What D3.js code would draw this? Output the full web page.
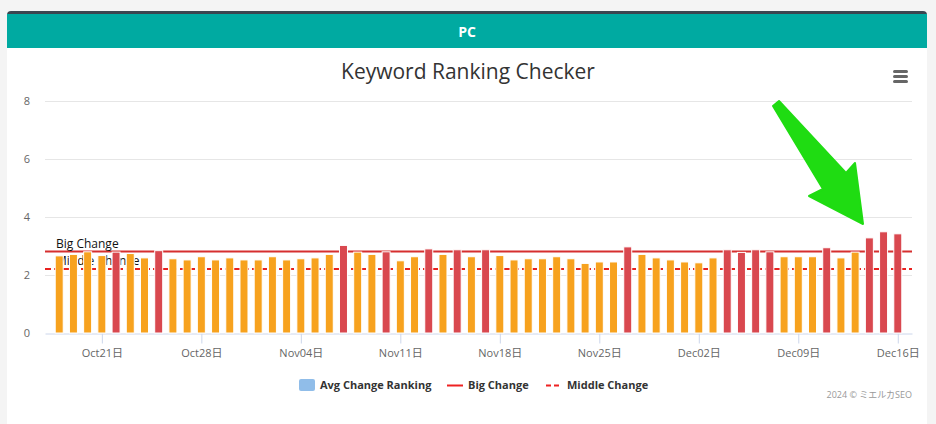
<!DOCTYPE html>
<html>
<head>
<meta charset="utf-8">
<script src="https://cdn.jsdelivr.net/npm/d3@7"></script>
<style>
  body { margin: 0; background: #f4f4f4; }
  svg { display: block; font-family: "Open Sans", "Noto Sans", sans-serif; }
</style>
</head>
<body>
<div id="chart"></div>
<script>
// daily average change ranking, Oct18 .. Dec16 (2024)
var startDay = "2024-10-18", endDay = "2024-12-17";
var avgChange = [
  2.66, 2.71, 2.80, 2.67, 2.79, 2.74, 2.59, 2.84, 2.56, 2.52,
  2.63, 2.52, 2.59, 2.52, 2.52, 2.63, 2.52, 2.56, 2.59, 2.71,
  3.02, 2.79, 2.71, 2.80, 2.49, 2.63, 2.90, 2.71, 2.87, 2.63,
  2.87, 2.67, 2.52, 2.56, 2.56, 2.63, 2.56, 2.40, 2.45, 2.45,
  2.97, 2.71, 2.59, 2.52, 2.45, 2.42, 2.59, 2.87, 2.78, 2.87,
  2.80, 2.63, 2.63, 2.63, 2.94, 2.59, 2.79, 3.28, 3.49, 3.42
];
// 1 = flagged as big change (red bar)
var bigFlag = [
  0,0,0,0,1,0,0,1,0,0,
  0,0,0,0,0,0,0,0,0,0,
  1,0,0,1,0,0,1,0,1,0,
  1,0,0,0,0,0,0,0,0,0,
  1,0,0,0,0,0,0,1,1,1,
  1,0,0,0,1,0,0,1,1,1
];
var thresholdNames = ["Big Change", "Middle Change"];
var thresholdValues = [2.81, 2.21];
var yTicks = [0, 2, 4, 6, 8];
var tickDays = ["2024-10-21", "2024-10-28", "2024-11-04", "2024-11-11", "2024-11-18",
                "2024-11-25", "2024-12-02", "2024-12-09", "2024-12-16"];
var legendNames = ["Avg Change Ranking", "Big Change", "Middle Change"];

var W = 936, H = 424;
var plot = { left: 45, right: 912, top: 101, bottom: 333 };

var svg = d3.select("#chart").append("svg")
  .attr("width", W).attr("height", H);

svg.append("rect").attr("width", W).attr("height", H).attr("fill", "#f4f4f4");

// card
svg.append("rect").attr("x", 7).attr("y", 11).attr("width", 920).attr("height", 420)
  .attr("rx", 4).attr("fill", "#ffffff");
svg.append("rect").attr("x", 7).attr("y", 11).attr("width", 920).attr("height", 37)
  .attr("rx", 4).attr("fill", "#3b4650");
svg.append("rect").attr("x", 7).attr("y", 14).attr("width", 920).attr("height", 34)
  .attr("fill", "#00aaa1");
svg.append("text").attr("x", 467).attr("y", 37).attr("text-anchor", "middle")
  .attr("fill", "#fff").style("font-size", "14px").style("font-weight", "bold").text("PC");

// title + menu
svg.append("text").attr("x", 468).attr("y", 79).attr("text-anchor", "middle")
  .attr("fill", "#333").style("font-size", "21px").text("Keyword Ranking Checker");
[0, 5, 10].forEach(function(o) {
  svg.append("rect").attr("x", 893).attr("y", 70 + o).attr("width", 15).attr("height", 3)
    .attr("rx", 1.5).attr("fill", "#666");
});

var parse = d3.utcParse("%Y-%m-%d");
var days = d3.utcDays(parse(startDay), parse(endDay));
var data = days.map(function(d, i) { return { date: d, value: avgChange[i], big: bigFlag[i] }; });

var x = d3.scaleUtc()
  .domain([d3.utcDay.offset(days[0], -1), d3.utcDay.offset(days[days.length - 1], 1)])
  .range([plot.left, plot.right]);
var y = d3.scaleLinear().domain([0, 8]).range([plot.bottom, plot.top]);

// grid
svg.append("g").selectAll("line").data(yTicks.slice(1)).enter().append("line")
  .attr("x1", plot.left).attr("x2", plot.right)
  .attr("y1", function(d) { return y(d) + 0.5; }).attr("y2", function(d) { return y(d) + 0.5; })
  .attr("stroke", "#e6e6e6");

svg.append("g").selectAll("text").data(yTicks).enter().append("text")
  .attr("x", 30).attr("y", function(d) { return y(d) + 4; })
  .attr("text-anchor", "end").attr("fill", "#666").style("font-size", "11px")
  .text(function(d) { return d; });

// x axis
var xAxis = d3.axisBottom(x)
  .tickValues(tickDays.map(parse))
  .tickFormat(d3.utcFormat("%b%d日"))
  .tickSizeInner(10).tickSizeOuter(0).tickPadding(6);
var gx = svg.append("g").attr("transform", "translate(0," + (plot.bottom + 0.5) + ")").call(xAxis);
gx.select(".domain").attr("stroke", "#ccd6eb");
gx.selectAll(".tick line").attr("stroke", "#ccd6eb");
gx.selectAll(".tick text").attr("fill", "#666").style("font-size", "11px")
  .style("font-family", "'Open Sans', 'Noto Sans CJK JP', sans-serif");

// threshold lines + labels (under the bars)
thresholdValues.forEach(function(v, i) {
  svg.append("line")
    .attr("x1", plot.left).attr("x2", plot.right)
    .attr("y1", y(v)).attr("y2", y(v))
    .attr("stroke", i === 0 ? "#d62f2f" : "#e8211f").attr("stroke-width", 2)
    .attr("stroke-dasharray", i === 0 ? null : "6,3");
  svg.append("text").attr("x", 56).attr("y", y(v) - 4)
    .attr("fill", "#111").style("font-size", "12px").text(thresholdNames[i]);
});

// bars
var barW = 8;
svg.append("g").selectAll("rect").data(data).enter().append("rect")
  .attr("x", function(d) { return x(d.date) - barW / 2; })
  .attr("y", function(d) { return y(d.value); })
  .attr("width", barW)
  .attr("height", function(d) { return y(0) - y(d.value); })
  .attr("fill", function(d) { return d.big ? "#d9484f" : "#f7a21e"; })
  .attr("stroke", "#fff").attr("stroke-width", 1);

// legend
var lg = svg.append("g").style("font-size", "11px").style("font-weight", "bold").attr("fill", "#333");
lg.append("rect").attr("x", 299).attr("y", 379).attr("width", 16).attr("height", 12)
  .attr("rx", 2).attr("fill", "#90bde9");
lg.append("text").attr("x", 320).attr("y", 389).text(legendNames[0]);
lg.append("line").attr("x1", 447).attr("x2", 463).attr("y1", 385.5).attr("y2", 385.5)
  .attr("stroke", "#e22").attr("stroke-width", 2);
lg.append("text").attr("x", 468).attr("y", 389).text(legendNames[1]);
lg.append("line").attr("x1", 546).attr("x2", 562).attr("y1", 385.5).attr("y2", 385.5)
  .attr("stroke", "#e22").attr("stroke-width", 2).attr("stroke-dasharray", "5,3");
lg.append("text").attr("x", 567).attr("y", 389).text(legendNames[2]);

svg.append("text").attr("x", 912).attr("y", 398).attr("text-anchor", "end")
  .attr("fill", "#999").style("font-size", "9px")
  .style("font-family", "'Open Sans', 'Noto Sans CJK JP', sans-serif")
  .text("2024 © ミエルカSEO");

// green callout arrow
svg.append("path")
  .attr("d", "M773,106 L779,101 L846,173 L855,163 L863,224 L809,196 L823,189 Z")
  .attr("fill", "#1fdc12").attr("stroke", "#1fdc12").attr("stroke-linejoin", "round").attr("stroke-width", 2);
</script>
</body>
</html>
